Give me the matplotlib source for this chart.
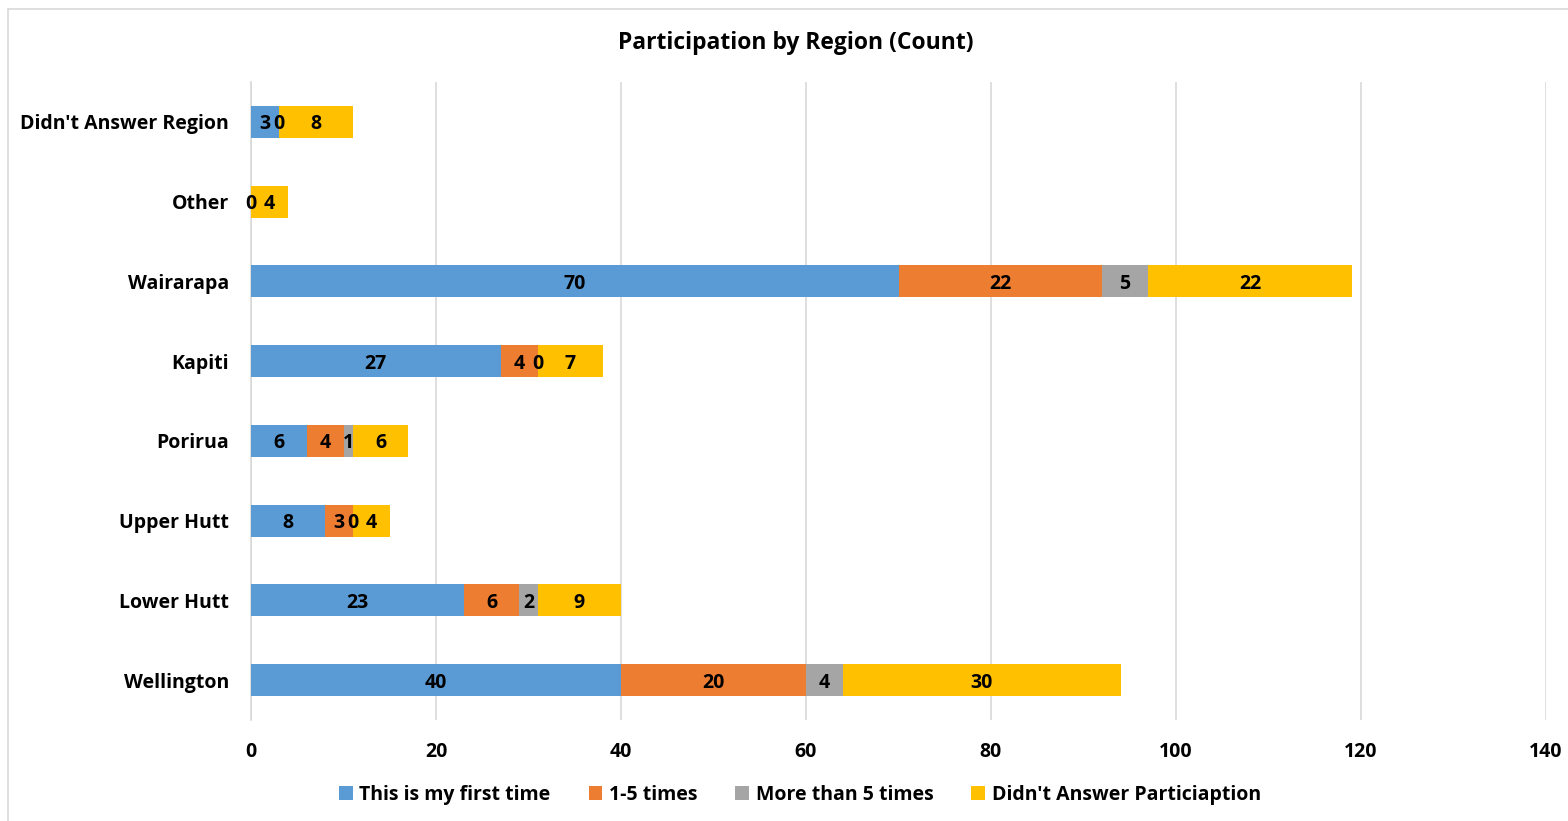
import numpy as np
import matplotlib
matplotlib.use("Agg")
import matplotlib.pyplot as plt
from matplotlib.patches import Patch
from matplotlib.lines import Line2D

plt.rcParams['font.family'] = ['Open Sans', 'DejaVu Sans']
plt.rcParams['font.weight'] = 'bold'

regions = ["Wellington", "Lower Hutt", "Upper Hutt", "Porirua", "Kapiti",
           "Wairarapa", "Other", "Didn't Answer Region"]
series_names = ["This is my first time", "1-5 times", "More than 5 times",
                "Didn't Answer Particiaption"]
first_time = [40, 23, 8, 6, 27, 70, 0, 3]
one_to_five = [20, 6, 3, 4, 4, 22, np.nan, 0]
more_than_five = [4, 2, 0, 1, 0, 5, np.nan, np.nan]
no_answer = [30, 9, 4, 6, 7, 22, 4, 8]
colors = ["#5B9BD5", "#ED7D31", "#A5A5A5", "#FFC000"]
x_ticks = [0, 20, 40, 60, 80, 100, 120, 140]

FS = 14

fig = plt.figure(figsize=(15.68, 8.21), dpi=100)
ax = fig.add_axes([251 / 1568, 1 - 720 / 821, (1546 - 251) / 1568, (720 - 82) / 821])

y = np.arange(len(regions))
left = np.zeros(len(regions))
for vals, name, col in zip([first_time, one_to_five, more_than_five, no_answer],
                           series_names, colors):
    v = np.array(vals, dtype=float)
    shown = ~np.isnan(v)
    w = np.where(shown, v, 0.0)
    ax.barh(y, w, left=left, height=0.4, color=col, label=name, zorder=3)
    for i in range(len(regions)):
        if shown[i]:
            ax.text(left[i] + w[i] / 2, y[i], f"{int(v[i])}", ha="center",
                    va="center_baseline", fontsize=FS, fontweight="bold",
                    color="black", zorder=4)
    left += w

ax.set_xlim(0, 140)
ax.set_ylim(-0.5, len(regions) - 0.5)
ax.set_xticks(x_ticks)
ax.set_xticklabels([str(t) for t in x_ticks])
ax.set_yticks(y)
ax.set_yticklabels(regions)
ax.grid(axis="x", color="#D9D9D9", linewidth=1.2, zorder=0)
ax.tick_params(axis="both", length=0, labelsize=FS)
ax.tick_params(axis="x", pad=15.5)
ax.tick_params(axis="y", pad=16)
for s in ["top", "right", "bottom"]:
    ax.spines[s].set_visible(False)
ax.spines["left"].set_color("#D9D9D9")
ax.spines["left"].set_linewidth(1.2)

fig.text(796 / 1568, 1 - 43 / 821, "Participation by Region (Count)", ha="center",
         va="center", fontsize=16.5, fontweight="bold")

handles = [Patch(facecolor=c, edgecolor="none") for c in colors]
fig.legend(handles, series_names, loc="center", bbox_to_anchor=(800 / 1568, 1 - 795 / 821),
           ncol=4, frameon=False, fontsize=FS, handlelength=0.7, handleheight=0.7,
           handletextpad=0.35, columnspacing=1.95)

# chart border
fig.add_artist(Line2D([8 / 1568, 8 / 1568], [0, 1 - 9 / 821], transform=fig.transFigure,
                      color="#D9D9D9", linewidth=1.2))
fig.add_artist(Line2D([8 / 1568, 1], [1 - 9 / 821, 1 - 9 / 821], transform=fig.transFigure,
                      color="#D9D9D9", linewidth=1.2))

fig.savefig("out.png", dpi=100)
